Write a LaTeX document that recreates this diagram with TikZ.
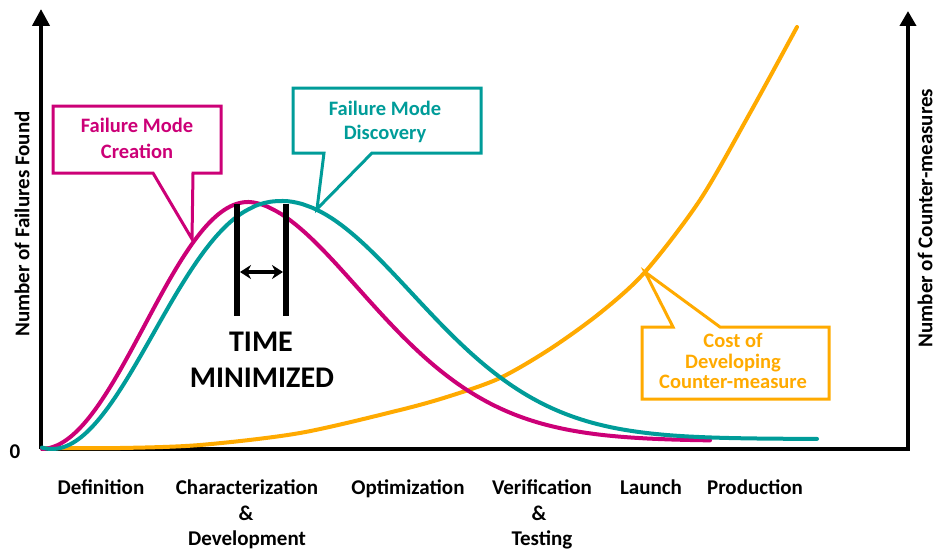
\documentclass[tikz,border=0pt]{standalone}
\usepackage{fontspec}
\setmainfont{Carlito}
\usetikzlibrary{arrows.meta}
\definecolor{fmcmag}{HTML}{CC0077}
\definecolor{fmdteal}{HTML}{009C99}
\definecolor{costorange}{HTML}{FFAA00}
\begin{document}
\begin{tikzpicture}[x=1pt,y=-1pt,
  lbl/.style={font=\fontsize{21}{25}\selectfont\bfseries, inner sep=0pt, anchor=base},
  calltxt/.style={font=\fontsize{20.5}{24}\selectfont\bfseries, inner sep=0pt, anchor=base},
  axisline/.style={line width=4pt, line join=miter},
  curve/.style={line width=4pt, line cap=round, line join=round},
  callout/.style={line width=3pt, line join=miter},
  bigtxt/.style={font=\fontsize{30}{34}\selectfont\bfseries, inner sep=0pt, anchor=base}
]
\useasboundingbox (0,0) rectangle (937,551);

% axes
\coordinate (O) at (41,449);
\coordinate (Ytop) at (41,9);
\coordinate (BR) at (908,449);
\coordinate (Y2top) at (908,11);
\draw[axisline, -{Triangle[length=17pt,width=17pt]}] (O) -- (Ytop);
\draw[axisline, -{Triangle[length=15pt,width=16pt]}] (O) -- (BR) -- (Y2top);

% axis labels
\node[lbl, anchor=center, rotate=90] (ylab) at (22,224) {Number of Failures Found};
\node[lbl, anchor=center, rotate=90] (y2lab) at (925,218) {Number of Counter-measures};
\node[lbl] (zero) at (15,458) {0};

% phase labels
\node[lbl] (def) at (101,494) {Definition};
\node[lbl] (char1) at (247,494) {Characterization};
\node[lbl] (char2) at (246,520) {\&};
\node[lbl] (char3) at (247,545) {Development};
\node[lbl] (opt) at (408,494) {Optimization};
\node[lbl] (ver1) at (542,494) {Verification};
\node[lbl] (ver2) at (539,520) {\&};
\node[lbl] (ver3) at (542,545) {Testing};
\node[lbl] (lau) at (651,494) {Launch};
\node[lbl] (prod) at (755,494) {Production};

% curves
\draw[curve, costorange] plot[smooth, tension=0.5] coordinates {
 (42,448) (120,448) (200,445) (300,433) (400,410) (450,396) (500,378)
 (550,349) (600,313) (645,272) (700,200) (750,113) (797,27)};
\draw[curve, fmcmag]
  plot[domain=42:248, samples=70] (\x, {449-123.5*(1+cos((248-\x)/207*180))})
  -- plot[domain=248.5:710, samples=100] (\x, {441-239*exp(-((\x-248)/172)^1.8)});
\draw[curve, fmdteal]
  plot[domain=42:282, samples=80] (\x, {449-124*(1+cos(180*((282.01-\x)/230)^1.12))})
  -- plot[domain=282.5:817, samples=110] (\x, {439-238*exp(-((\x-282)/187)^1.95)});

% time minimized marker
\coordinate (b1t) at (237,204);
\coordinate (b1b) at (237,316);
\coordinate (b2t) at (286,204);
\coordinate (b2b) at (286,316);
\draw[line width=6pt] (b1t) -- (b1b);
\draw[line width=6pt] (b2t) -- (b2b);
\coordinate (a1) at (240,272);
\coordinate (a2) at (283,272);
\draw[line width=3.5pt, {Stealth[length=11pt,width=14pt]}-{Stealth[length=11pt,width=14pt]}] (a1) -- (a2);
\node[bigtxt] (time) at (261,351) {TIME};
\node[bigtxt] (mini) at (262,387) {MINIMIZED};

% callout: failure mode creation
\draw[callout, fmcmag] (53,106) -- (221,106) -- (221,173) -- (193,173) -- (192,239)
  -- (153,173) -- (53,173) -- cycle;
\node[calltxt, text=fmcmag] (c1a) at (137,132) {Failure Mode};
\node[calltxt, text=fmcmag] (c1b) at (137,158) {Creation};

% callout: failure mode discovery
\draw[callout, fmdteal] (293,88) -- (481,88) -- (481,153) -- (372,153) -- (317,209)
  -- (324,153) -- (293,153) -- cycle;
\node[calltxt, text=fmdteal] (c2a) at (385,115) {Failure Mode};
\node[calltxt, text=fmdteal] (c2b) at (385,139) {Discovery};

% callout: cost of developing counter-measure
\draw[callout, costorange] (642,327) -- (673,327) -- (645,272) -- (720,327)
  -- (829,327) -- (829,399) -- (642,399) -- cycle;
\node[calltxt, text=costorange] (c3a) at (733,347) {Cost of};
\node[calltxt, text=costorange] (c3b) at (733,368) {Developing};
\node[calltxt, text=costorange] (c3c) at (733,388) {Counter-measure};
\end{tikzpicture}
\end{document}
